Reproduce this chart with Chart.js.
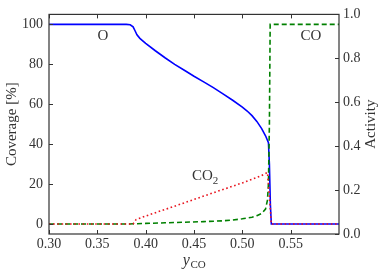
<!DOCTYPE html>
<html>
<head>
<meta charset="utf-8">
<script src="https://cdn.jsdelivr.net/npm/chart.js@4"></script>
<style>
  html, body { margin: 0; padding: 0; background: #fff; }
  #wrap { width: 382px; height: 273px; }
</style>
</head>
<body>
<div id="wrap"><canvas id="coverage-chart"></canvas></div>
<script>
// O coverage (blue solid)
const oX = [0.30, 0.38, 0.384, 0.387, 0.389, 0.391, 0.394, 0.40, 0.41, 0.42, 0.43, 0.44, 0.45, 0.46, 0.47, 0.48, 0.49, 0.50, 0.505, 0.51, 0.515, 0.52, 0.524, 0.527, 0.528, 0.529, 0.53, 0.60];
const oY = [100, 100, 99.8, 98.8, 96.8, 94.8, 93.0, 90.5, 86.8, 83.3, 80.0, 77.0, 74.0, 71.2, 68.3, 65.2, 62.0, 58.6, 56.6, 54.3, 51.4, 47.8, 44.2, 40.8, 30, 10, 0, 0];

// CO coverage (green dashed)
const coX = [0.30, 0.38, 0.40, 0.42, 0.44, 0.46, 0.48, 0.49, 0.50, 0.51, 0.515, 0.52, 0.524, 0.526, 0.527, 0.528, 0.5288, 0.60];
const coY = [0, 0, 0.3, 0.6, 0.9, 1.2, 1.6, 2.0, 2.6, 3.4, 4.2, 5.3, 7.5, 12, 20, 50, 100, 100];

// CO2 activity (red dotted)
const co2X = [0.30, 0.387, 0.39, 0.40, 0.42, 0.44, 0.46, 0.48, 0.50, 0.51, 0.52, 0.526, 0.528, 0.53, 0.60];
const co2Y = [0, 0, 2.2, 4.0, 7.3, 10.6, 14.0, 17.3, 20.6, 22.4, 24.3, 25.8, 14, 0, 0];

const xTicks = [0.30, 0.35, 0.40, 0.45, 0.50, 0.55];
const coverageTicks = [0, 20, 40, 60, 80, 100];
const activityTicks = [0, 0.2, 0.4, 0.6, 0.8, 1.0];

const labels = [
  { text: 'O', sub: '', x: 0.3557, y: 94 },
  { text: 'CO', sub: '', x: 0.571, y: 94 },
  { text: 'CO', sub: '2', x: 0.4615, y: 24 }
];

const serif = "'Liberation Serif', 'DejaVu Serif', serif";
const ink = '#333';

function pts(xs, ys) {
  return xs.map((x, i) => ({ x: x, y: ys[i] }));
}

const decor = {
  id: 'decor',
  afterDraw(chart) {
    const ctx = chart.ctx;
    const a = chart.chartArea;
    const sx = chart.scales.x, sy = chart.scales.y, sy1 = chart.scales.y1;
    ctx.save();
    // frame
    ctx.strokeStyle = ink;
    ctx.lineWidth = 1.2;
    ctx.strokeRect(a.left, a.top, a.right - a.left, a.bottom - a.top);
    // inward ticks
    ctx.lineWidth = 1;
    ctx.beginPath();
    xTicks.forEach(v => {
      const px = Math.round(sx.getPixelForValue(v)) + 0.5;
      ctx.moveTo(px, a.bottom); ctx.lineTo(px, a.bottom - 4);
      ctx.moveTo(px, a.top); ctx.lineTo(px, a.top + 4);
    });
    coverageTicks.forEach(v => {
      const py = Math.round(sy.getPixelForValue(v)) + 0.5;
      ctx.moveTo(a.left, py); ctx.lineTo(a.left + 4, py);
    });
    activityTicks.forEach(v => {
      const py = Math.round(sy1.getPixelForValue(v)) + 0.5;
      ctx.moveTo(a.right, py); ctx.lineTo(a.right - 4, py);
    });
    ctx.stroke();

    // curve labels
    ctx.fillStyle = ink;
    ctx.textBaseline = 'middle';
    labels.forEach(l => {
      const px = sx.getPixelForValue(l.x);
      const py = sy.getPixelForValue(l.y);
      ctx.font = '15px ' + serif;
      const w = ctx.measureText(l.text).width;
      ctx.font = '11px ' + serif;
      const ws = l.sub ? ctx.measureText(l.sub).width : 0;
      const x0 = px - (w + ws) / 2;
      ctx.font = '15px ' + serif;
      ctx.textAlign = 'left';
      ctx.fillText(l.text, x0, py);
      if (l.sub) {
        ctx.font = '11px ' + serif;
        ctx.fillText(l.sub, x0 + w, py + 5);
      }
    });

    // axis titles
    ctx.font = '15px ' + serif;
    ctx.textAlign = 'center';
    const cy = (a.top + a.bottom) / 2;
    ctx.save();
    ctx.translate(12, cy);
    ctx.rotate(-Math.PI / 2);
    ctx.fillText('Coverage [%]', 0, 0);
    ctx.restore();
    ctx.save();
    ctx.translate(371, cy);
    ctx.rotate(-Math.PI / 2);
    ctx.fillText('Activity', 0, 0);
    ctx.restore();

    // x title: italic y with subscript CO
    const cx = (a.left + a.right) / 2;
    ctx.font = 'italic 16px ' + serif;
    const wy = ctx.measureText('y').width;
    ctx.font = '11px ' + serif;
    const wco = ctx.measureText('CO').width;
    const xs = cx - (wy + wco) / 2;
    ctx.textAlign = 'left';
    ctx.font = 'italic 16px ' + serif;
    ctx.fillText('y', xs, 261);
    ctx.font = '11px ' + serif;
    ctx.fillText('CO', xs + wy + 0.5, 265);
    ctx.restore();
  }
};

new Chart(document.getElementById('coverage-chart'), {
  type: 'scatter',
  data: {
    datasets: [
      {
        label: 'CO2',
        data: pts(co2X, co2Y),
        showLine: true,
        borderColor: '#e8141e',
        borderWidth: 1.6,
        borderDash: [1.6, 2.6],
        pointRadius: 0,
        yAxisID: 'y'
      },
      {
        label: 'CO',
        data: pts(coX, coY),
        showLine: true,
        borderColor: '#008000',
        borderWidth: 1.6,
        borderDash: [5, 3],
        pointRadius: 0,
        yAxisID: 'y'
      },
      {
        label: 'O',
        data: pts(oX, oY),
        showLine: true,
        borderColor: '#0000ff',
        borderWidth: 1.6,
        pointRadius: 0,
        yAxisID: 'y'
      }
    ]
  },
  options: {
    responsive: true,
    maintainAspectRatio: false,
    animation: false,
    events: [],
    layout: { padding: { top: 10, left: 0, right: 0, bottom: 0 } },
    plugins: {
      legend: { display: false },
      tooltip: { enabled: false }
    },
    scales: {
      x: {
        type: 'linear',
        min: 0.30,
        max: 0.60,
        afterBuildTicks: s => { s.ticks = xTicks.map(v => ({ value: v })); },
        afterFit: s => { s.height = 39; },
        grid: { display: false, drawTicks: false },
        border: { display: false },
        ticks: {
          callback: v => v.toFixed(2),
          font: { family: serif, size: 14 },
          color: ink,
          padding: 2,
          maxRotation: 0,
          autoSkip: false
        }
      },
      y: {
        position: 'left',
        min: -5,
        max: 105,
        afterBuildTicks: s => { s.ticks = coverageTicks.map(v => ({ value: v })); },
        afterFit: s => { s.width = 49; },
        grid: { display: false, drawTicks: false },
        border: { display: false },
        ticks: {
          font: { family: serif, size: 14 },
          color: ink,
          padding: 6
        }
      },
      y1: {
        position: 'right',
        min: 0,
        max: 1,
        afterBuildTicks: s => { s.ticks = activityTicks.map(v => ({ value: v })); },
        afterFit: s => { s.width = 43; },
        grid: { display: false, drawTicks: false },
        border: { display: false },
        ticks: {
          callback: v => v.toFixed(1),
          font: { family: serif, size: 14 },
          color: ink,
          padding: 4
        }
      }
    }
  },
  plugins: [decor]
});
</script>
</body>
</html>
